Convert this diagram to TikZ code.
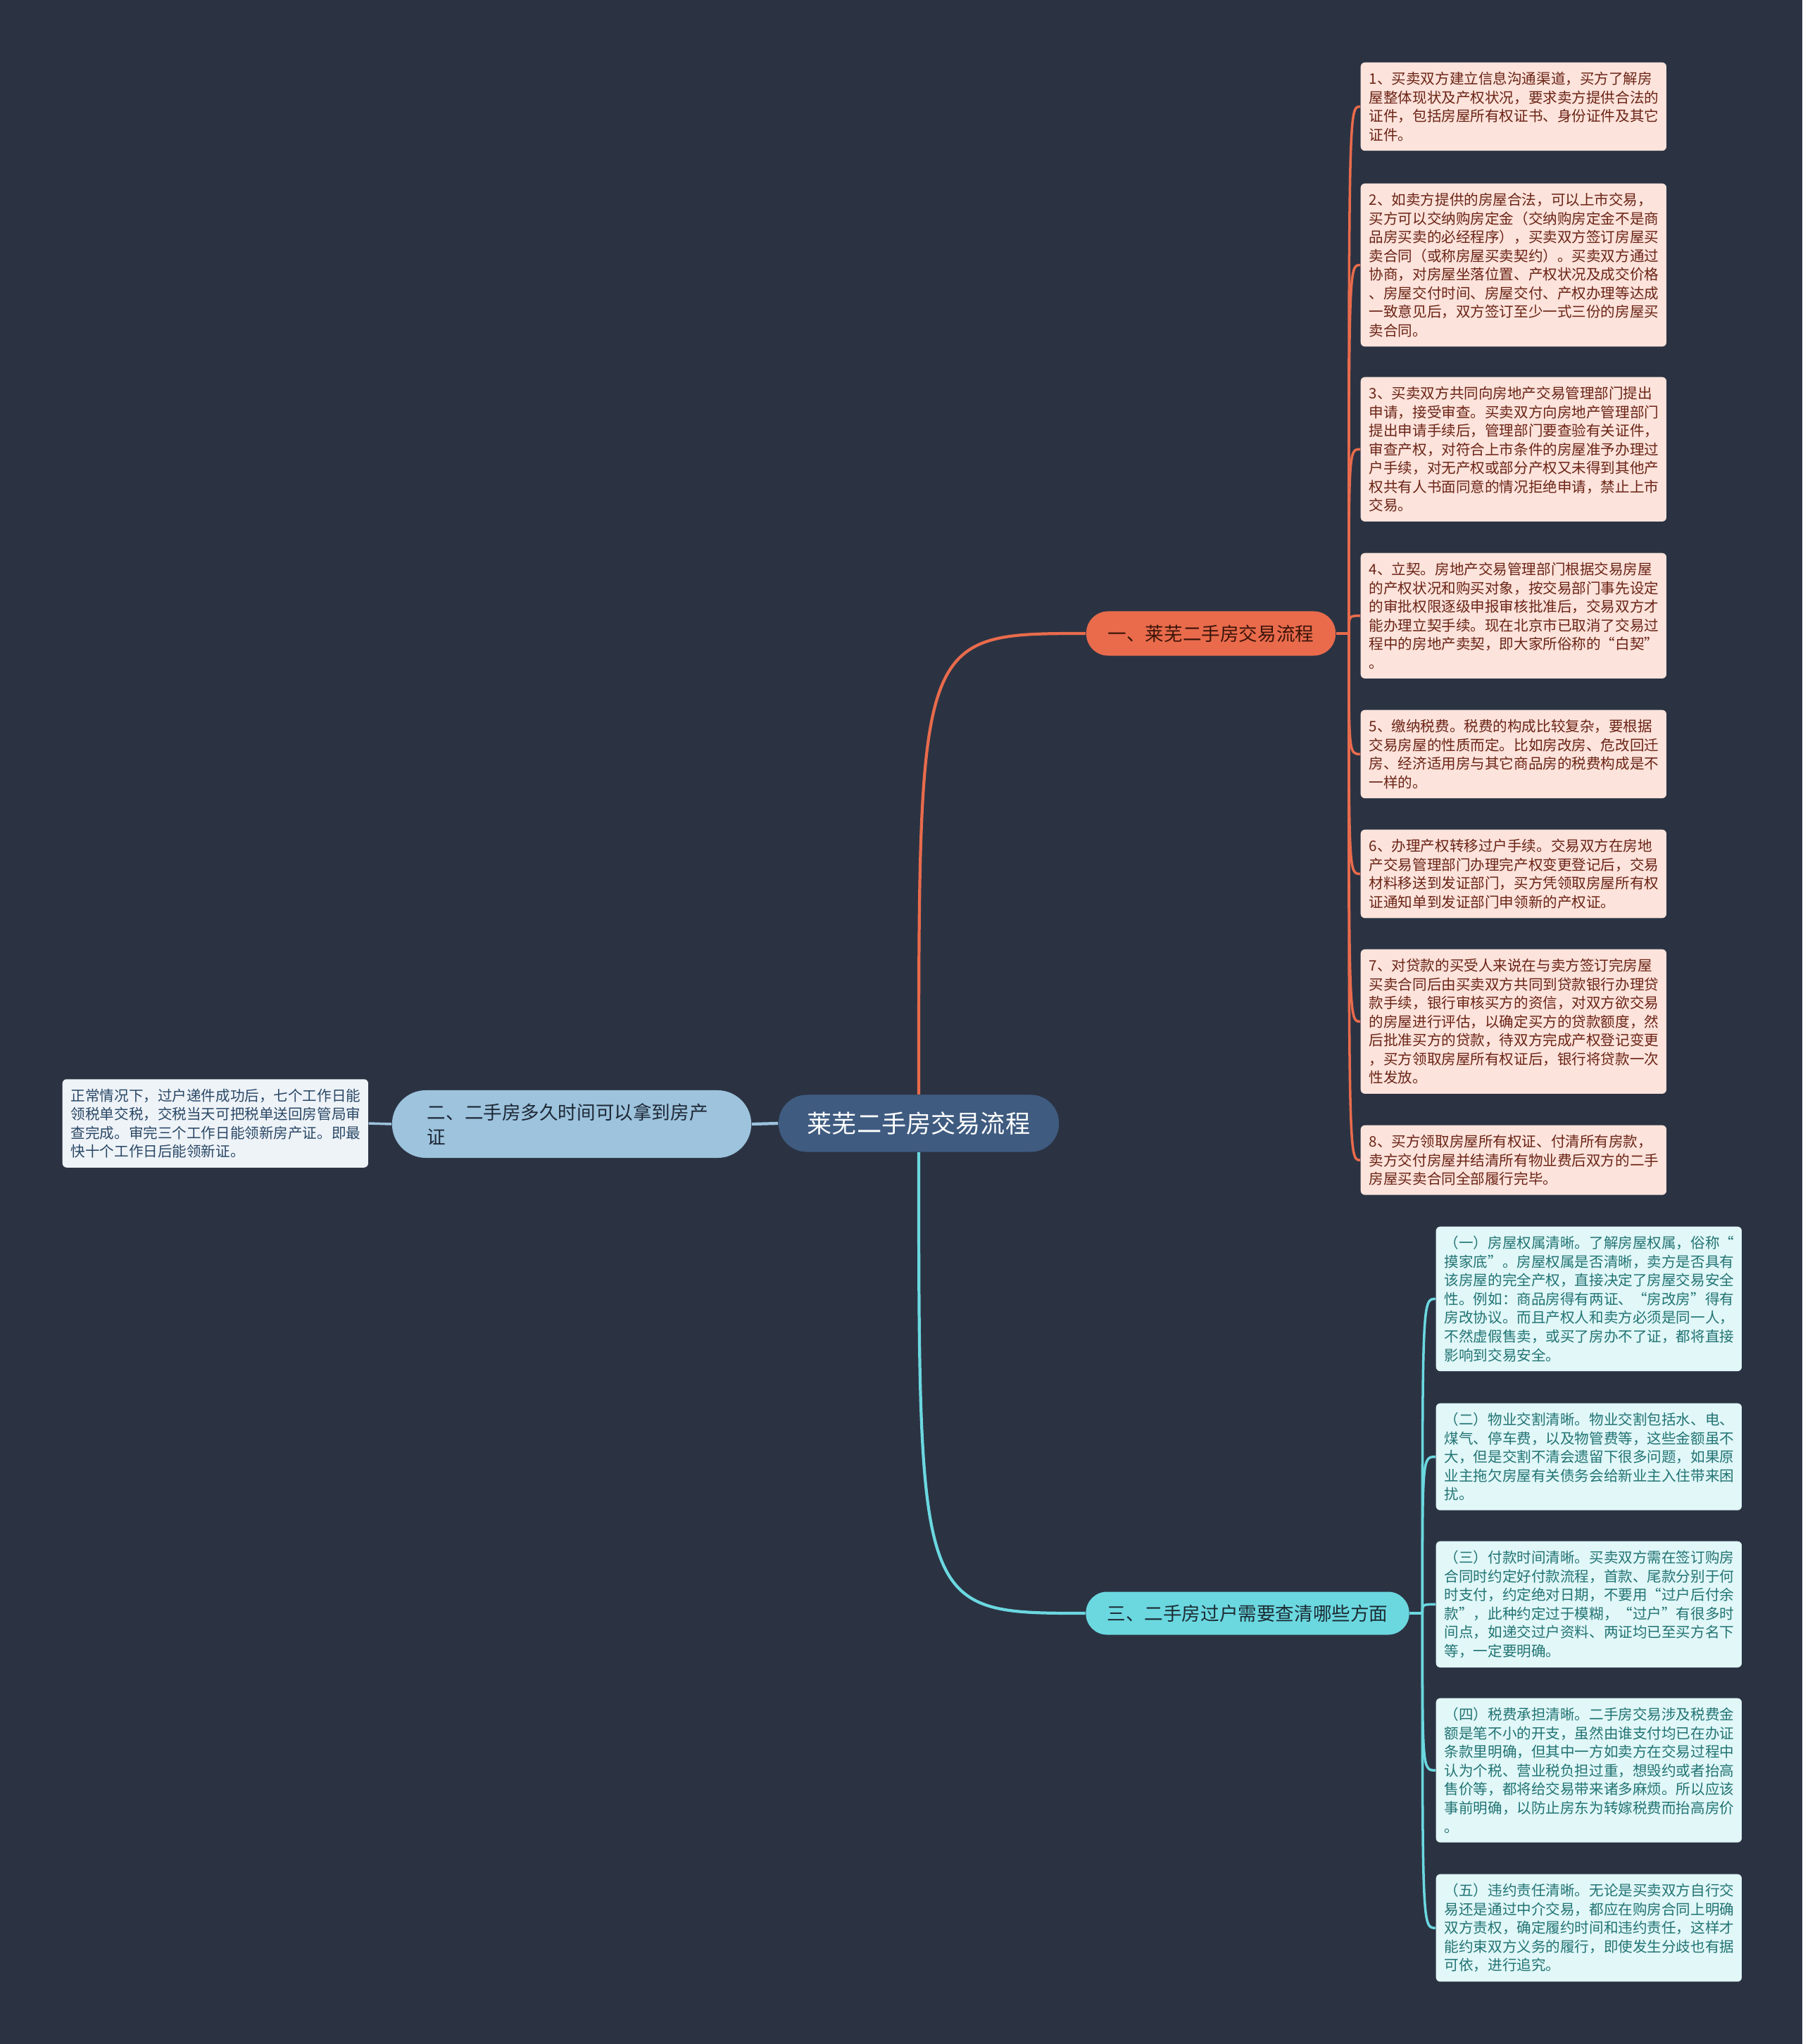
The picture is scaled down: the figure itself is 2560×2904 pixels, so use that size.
\documentclass[tikz,border=0pt]{standalone}
\usepackage{fontspec}
\setmainfont{Noto Sans CJK SC}

\definecolor{bgcolor}{HTML}{2B3343}
\definecolor{rootfill}{HTML}{3F5B80}
\definecolor{orangefill}{HTML}{E96B4C}
\definecolor{orangetext}{HTML}{3B1409}
\definecolor{stepfill}{HTML}{FCE3DB}
\definecolor{steptext}{HTML}{6B2416}
\definecolor{bluefill}{HTML}{9DC3DD}
\definecolor{bluetext}{HTML}{1E2835}
\definecolor{notefill}{HTML}{EEF3F8}
\definecolor{notetext}{HTML}{2A4866}
\definecolor{cyanfill}{HTML}{6BD8E0}
\definecolor{cyantext}{HTML}{1C2B33}
\definecolor{checkfill}{HTML}{E1F7F8}
\definecolor{checktext}{HTML}{237474}

\newcommand{\leaffont}{\fontsize{5.85pt}{7.55pt}\selectfont}
\newcommand{\branchfont}{\fontsize{7.56pt}{10pt}\selectfont}
\newcommand{\rootfont}{\fontsize{10pt}{12pt}\selectfont}

\tikzset{
  leaf/.style={anchor=north west, text width=4.1cm, inner xsep=0.12cm, inner ysep=3.8pt,
    align=left, rounded corners=0.06cm, font=\leaffont},
  stepbox/.style={leaf, fill=stepfill, text=steptext},
  checkbox/.style={leaf, fill=checkfill, text=checktext},
  notebox/.style={leaf, fill=notefill, text=notetext},
  branch/.style={inner sep=0pt, align=center, font=\branchfont},
  orangeline/.style={draw=orangefill, line width=1pt},
  cyanline/.style={draw=cyanfill, line width=1pt},
  blueline/.style={draw=bluefill, line width=1pt}
}

\begin{document}
\begin{tikzpicture}[x=0.01cm, y=-0.01cm]
    % Background
    \fill[bgcolor] (0,0) rectangle (2560,2904);
    \useasboundingbox (0,0) rectangle (2560,2904);

    % Root
    \node[branch, fill=rootfill, text=white, font=\rootfont, minimum width=3.98cm,
      minimum height=0.81cm, rounded corners=0.4cm] (root) at (1305,1596) {莱芜二手房交易流程};

    % Main branches
    \node[branch, fill=orangefill, text=orangetext, minimum width=3.54cm,
      minimum height=0.63cm, rounded corners=0.31cm] (first) at (1720,900) {一、莱芜二手房交易流程};
    \node[branch, fill=bluefill, text=bluetext, align=left, text width=4.1cm, minimum width=5.1cm,
      minimum height=0.96cm, rounded corners=0.48cm] (second) at (812,1597) {二、二手房多久时间可以拿到房产\\证};
    \node[branch, fill=cyanfill, text=cyantext, minimum width=4.59cm,
      minimum height=0.61cm, rounded corners=0.3cm] (third) at (1772,2292) {三、二手房过户需要查清哪些方面};

    % Root to branches
    \draw[orangefill, line width=1.2pt] (root.north) .. controls (root.north |- first.west) and (root.north |- first.west) .. (first.west);
    \draw[cyanfill, line width=1.2pt] (root.south) .. controls (root.south |- third.west) and (root.south |- third.west) .. (third.west);
    \draw[bluefill, line width=1.2pt] (root.west) -- (second.east);

    % Steps of the first branch
    \node[stepbox] (s1) at (1932,88) {1、买卖双方建立信息沟通渠道，买方了解房\\屋整体现状及产权状况，要求卖方提供合法的\\证件，包括房屋所有权证书、身份证件及其它\\证件。};
    \node[stepbox] (s2) at (1932,260) {2、如卖方提供的房屋合法，可以上市交易，\\买方可以交纳购房定金（交纳购房定金不是商\\品房买卖的必经程序），买卖双方签订房屋买\\卖合同（或称房屋买卖契约）。买卖双方通过\\协商，对房屋坐落位置、产权状况及成交价格\\、房屋交付时间、房屋交付、产权办理等达成\\一致意见后，双方签订至少一式三份的房屋买\\卖合同。};
    \node[stepbox] (s3) at (1932,535) {3、买卖双方共同向房地产交易管理部门提出\\申请，接受审查。买卖双方向房地产管理部门\\提出申请手续后，管理部门要查验有关证件，\\审查产权，对符合上市条件的房屋准予办理过\\户手续，对无产权或部分产权又未得到其他产\\权共有人书面同意的情况拒绝申请，禁止上市\\交易。};
    \node[stepbox] (s4) at (1932,785) {4、立契。房地产交易管理部门根据交易房屋\\的产权状况和购买对象，按交易部门事先设定\\的审批权限逐级申报审核批准后，交易双方才\\能办理立契手续。现在北京市已取消了交易过\\程中的房地产卖契，即大家所俗称的“白契”\\。};
    \node[stepbox] (s5) at (1932,1008) {5、缴纳税费。税费的构成比较复杂，要根据\\交易房屋的性质而定。比如房改房、危改回迁\\房、经济适用房与其它商品房的税费构成是不\\一样的。};
    \node[stepbox] (s6) at (1932,1178) {6、办理产权转移过户手续。交易双方在房地\\产交易管理部门办理完产权变更登记后，交易\\材料移送到发证部门，买方凭领取房屋所有权\\证通知单到发证部门申领新的产权证。};
    \node[stepbox] (s7) at (1932,1348) {7、对贷款的买受人来说在与卖方签订完房屋\\买卖合同后由买卖双方共同到贷款银行办理贷\\款手续，银行审核买方的资信，对双方欲交易\\的房屋进行评估，以确定买方的贷款额度，然\\后批准买方的贷款，待双方完成产权登记变更\\，买方领取房屋所有权证后，银行将贷款一次\\性发放。};
    \node[stepbox] (s8) at (1932,1598) {8、买方领取房屋所有权证、付清所有房款，\\卖方交付房屋并结清所有物业费后双方的二手\\房屋买卖合同全部履行完毕。};

    \draw[orangeline] (first.east) -- ++(18,0) coordinate (jfirst);
    \foreach \i in {1,...,8}
      \draw[orangeline] (jfirst) .. controls (jfirst |- s\i.west) .. (s\i.west);

    % Answer of the second branch
    \node[notebox, anchor=west] (answer) at (88,1596) {正常情况下，过户递件成功后，七个工作日能\\领税单交税，交税当天可把税单送回房管局审\\查完成。审完三个工作日能领新房产证。即最\\快十个工作日后能领新证。};
    \draw[blueline] (second.west) -- (answer.east);

    % Checks of the third branch
    \node[checkbox] (c1) at (2039,1742) {（一）房屋权属清晰。了解房屋权属，俗称“\\摸家底”。房屋权属是否清晰，卖方是否具有\\该房屋的完全产权，直接决定了房屋交易安全\\性。例如：商品房得有两证、“房改房”得有\\房改协议。而且产权人和卖方必须是同一人，\\不然虚假售卖，或买了房办不了证，都将直接\\影响到交易安全。};
    \node[checkbox] (c2) at (2039,1993) {（二）物业交割清晰。物业交割包括水、电、\\煤气、停车费，以及物管费等，这些金额虽不\\大，但是交割不清会遗留下很多问题，如果原\\业主拖欠房屋有关债务会给新业主入住带来困\\扰。};
    \node[checkbox] (c3) at (2039,2189) {（三）付款时间清晰。买卖双方需在签订购房\\合同时约定好付款流程，首款、尾款分别于何\\时支付，约定绝对日期，不要用“过户后付余\\款”，此种约定过于模糊，“过户”有很多时\\间点，如递交过户资料、两证均已至买方名下\\等，一定要明确。};
    \node[checkbox] (c4) at (2039,2412) {（四）税费承担清晰。二手房交易涉及税费金\\额是笔不小的开支，虽然由谁支付均已在办证\\条款里明确，但其中一方如卖方在交易过程中\\认为个税、营业税负担过重，想毁约或者抬高\\售价等，都将给交易带来诸多麻烦。所以应该\\事前明确，以防止房东为转嫁税费而抬高房价\\。};
    \node[checkbox] (c5) at (2039,2662) {（五）违约责任清晰。无论是买卖双方自行交\\易还是通过中介交易，都应在购房合同上明确\\双方责权，确定履约时间和违约责任，这样才\\能约束双方义务的履行，即使发生分歧也有据\\可依，进行追究。};

    \draw[cyanline] (third.east) -- ++(18,0) coordinate (jthird);
    \foreach \i in {1,...,5}
      \draw[cyanline] (jthird) .. controls (jthird |- c\i.west) .. (c\i.west);
\end{tikzpicture}
\end{document}
